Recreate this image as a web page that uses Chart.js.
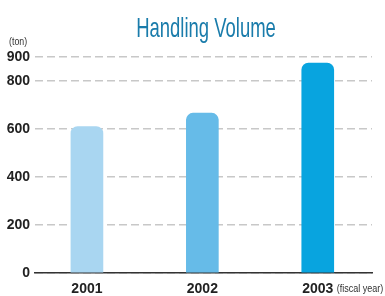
<!DOCTYPE html>
<html>
<head>
<meta charset="utf-8">
<script src="https://cdn.jsdelivr.net/npm/chart.js@4"></script>
<style>
  html, body { margin: 0; padding: 0; background: #fff; }
  #wrap { width: 385px; height: 296px; }
</style>
</head>
<body>
<div id="wrap"><canvas id="myChart" width="385" height="296"></canvas></div>
<script>
const years = [2001, 2002, 2003];
const volumes = [610, 666, 875];
const yTicks = [0, 200, 400, 600, 800, 900];
const barColors = ["#a9d6f1", "#66bbe8", "#08a4df"];

const FONT = "'Liberation Sans', Arial, sans-serif";

// narrow text helper: there is no condensed face installed, so squeeze it
function narrowText(ctx, text, x, y, size, color, sx, align) {
  ctx.save();
  ctx.font = size + "px " + FONT;
  ctx.fillStyle = color;
  ctx.textBaseline = "alphabetic";
  ctx.textAlign = "left";
  const w = ctx.measureText(text).width * sx;
  const left = align === "center" ? x - w / 2 : x;
  ctx.translate(left, y);
  ctx.scale(sx, 1);
  ctx.fillText(text, 0, 0);
  ctx.restore();
}

// title, unit caption and "(fiscal year)"
const captions = {
  id: "captions",
  afterDraw(chart) {
    const ctx = chart.ctx;
    narrowText(ctx, "Handling Volume", 206, 37, 28, "#1a7cab", 0.66, "center");
    narrowText(ctx, "(ton)", 9, 45, 11, "#333", 0.8, "left");
    const x = chart.scales.x.getPixelForValue(years[years.length - 1]);
    narrowText(ctx, "(fiscal year)", x + 19, 292, 11, "#333", 0.82, "left");
  },
};

const data = {
  datasets: [
    {
      data: years.map((y, i) => ({ x: y, y: volumes[i] })),
      backgroundColor: barColors,
      borderWidth: 0,
      borderSkipped: "bottom",
      borderRadius: { topLeft: 7, topRight: 7, bottomLeft: 0, bottomRight: 0 },
      barThickness: 32,
    },
  ],
};

const config = {
  type: "bar",
  data: data,
  options: {
    responsive: false,
    animation: false,
    layout: { padding: { left: 0, right: 13, top: 57, bottom: 0 } },
    plugins: {
      legend: { display: false },
      tooltip: { enabled: false },
      title: { display: false },
    },
    scales: {
      x: {
        type: "linear",
        offset: false,
        min: 2000.55,
        max: 2003.47,
        afterBuildTicks(scale) {
          scale.ticks = years.map((v) => ({ value: v }));
        },
        afterFit(scale) {
          scale.height = 23;
        },
        ticks: {
          callback: (v) => String(v),
          color: "#222",
          font: { family: FONT, size: 14, weight: "bold" },
          padding: 0,
          maxRotation: 0,
        },
        grid: { display: false },
        border: { display: true, color: "#333", width: 1.5 },
      },
      y: {
        min: 0,
        max: 900,
        afterBuildTicks(scale) {
          scale.ticks = yTicks.map((v) => ({ value: v }));
        },
        afterFit(scale) {
          scale.width = 35;
        },
        ticks: {
          color: "#222",
          font: { family: FONT, size: 14, weight: "bold" },
          padding: 5,
        },
        grid: {
          color: "#c8c8c8",
          lineWidth: 1.5,
          drawTicks: false,
        },
        border: { display: false, dash: [8, 4] },
      },
    },
  },
  plugins: [captions],
};

var myChart = new Chart(document.getElementById("myChart"), config);
</script>
</body>
</html>
